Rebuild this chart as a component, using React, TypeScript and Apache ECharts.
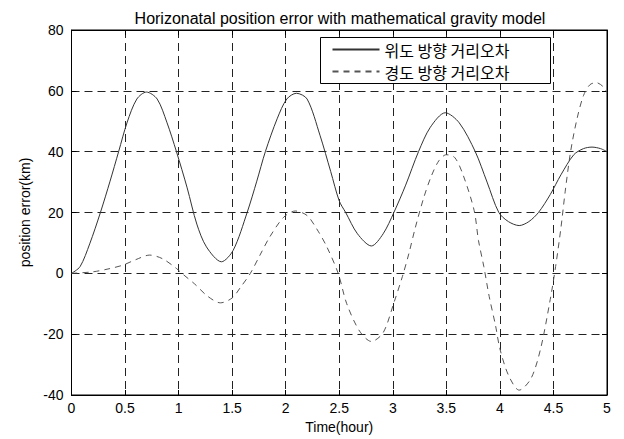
import React, { useEffect, useRef } from "react";
import * as echarts from "echarts";

const titleText = "Horizonatal position error with mathematical gravity model";
const xName = "Time(hour)";
const yName = "position error(km)";
const seriesNames = ["위도 방향 거리오차", "경도 방향 거리오차"];

const latT = [0, 0.08, 0.17, 0.27, 0.36, 0.44, 0.52, 0.61, 0.7, 0.8, 0.89, 0.98, 1.08, 1.17, 1.26, 1.4, 1.51, 1.64, 1.73, 1.81, 1.92, 2.01, 2.1, 2.2, 2.32, 2.42, 2.5, 2.56, 2.67, 2.8, 2.91, 3.01, 3.12, 3.24, 3.35, 3.49, 3.62, 3.77, 3.88, 3.99, 4.08, 4.18, 4.27, 4.36, 4.47, 4.57, 4.69, 4.78, 4.86, 4.94, 5.0];
const latV = [0, 2.2, 9.7, 20, 30.3, 40, 49.7, 57.3, 59.6, 57.3, 49.7, 40, 28.1, 16.2, 8.7, 3.8, 7.6, 20, 30.3, 40, 50.8, 57.3, 59.2, 57.3, 45.4, 33.5, 23.8, 20, 13, 9, 13, 20, 29, 40, 48, 52.8, 49.5, 40, 30, 20, 17, 15.7, 17, 20, 25.9, 32.4, 39, 41, 41.5, 41, 40];

const lonT = [0, 0.2, 0.35, 0.48, 0.6, 0.73, 0.85, 0.98, 1.03, 1.15, 1.27, 1.39, 1.5, 1.58, 1.67, 1.76, 1.85, 1.98, 2.09, 2.2, 2.29, 2.38, 2.49, 2.57, 2.69, 2.8, 2.91, 3.01, 3.09, 3.15, 3.21, 3.29, 3.36, 3.43, 3.5, 3.58, 3.66, 3.76, 3.8, 3.85, 3.9, 3.96, 4.0, 4.08, 4.18, 4.29, 4.38, 4.47, 4.52, 4.57, 4.61, 4.66, 4.72, 4.78, 4.84, 4.9, 4.96, 5.0];
const lonV = [0, 0.5, 1.5, 2.7, 4.5, 6.0, 4.8, 1.6, 0, -3.5, -7.5, -9.7, -8.1, -4.5, 0, 6, 11.9, 18.4, 20.5, 19.0, 14.6, 9, 0, -10, -19, -22.4, -19.5, -9.7, -1, 6.5, 15, 25, 32, 37, 39, 38, 32, 20.6, 10.8, 2.2, -7.6, -17.3, -24.8, -33.5, -38.4, -34.6, -24.8, -8.6, 2.2, 15, 27, 40, 50.8, 58.4, 62, 62.7, 61.5, 59.5];

const xTicks = { min: 0, max: 5, interval: 0.5 };
const yTicks = { min: -40, max: 80, interval: 20 };

export default function App() {
  const ref = useRef<HTMLDivElement>(null);
  useEffect(() => {
    document.body.style.margin = "0";
    if (!ref.current) return;
    const chart = echarts.init(ref.current, undefined, { renderer: "svg" });
    const latin = "Liberation Sans, Arial, sans-serif";
    const gridL = 71.5, gridR = 17, gridT = 30, gridB = 39;
    chart.setOption({
      animation: false,
      backgroundColor: "#fff",
      title: {
        text: titleText,
        left: 335,
        textAlign: "center",
        top: 5,
        textStyle: { fontFamily: latin, fontSize: 16, fontWeight: "normal", color: "#000" },
      },
      legend: {
        orient: "vertical",
        left: 320.5,
        top: 37.5,
        itemWidth: 47,
        itemHeight: 14,
        itemGap: 2,
        padding: [2, 8, 2, 11],
        borderColor: "#000",
        borderWidth: 1,
        backgroundColor: "#fff",
        itemStyle: { opacity: 0 },
        data: seriesNames,
        textStyle: {
          fontFamily: "Noto Sans CJK KR",
          fontSize: 16,
          lineHeight: 20,
          width: 158,
          color: "#000",
        },
      },
      grid: {
        left: gridL,
        right: gridR,
        top: gridT,
        bottom: gridB,
        show: true,
        borderColor: "#000",
        borderWidth: 1,
        backgroundColor: "#fff",
      },
      xAxis: [
        {
          type: "value",
          ...xTicks,
          name: xName,
          nameLocation: "middle",
          nameGap: 25,
          nameTextStyle: { fontFamily: latin, fontSize: 14, color: "#000" },
          axisLine: { show: true, onZero: false, lineStyle: { color: "#000" } },
          axisTick: { show: true, inside: true, length: 5, lineStyle: { color: "#000" } },
          axisLabel: { fontFamily: latin, fontSize: 14, color: "#000", margin: 6 },
          splitLine: { show: true, lineStyle: { type: [8, 5], color: "#222", width: 1 } },
        },
        {
          type: "value",
          ...xTicks,
          position: "top",
          axisLine: { show: true, onZero: false, lineStyle: { color: "#000" } },
          axisTick: { show: true, inside: true, length: 5, lineStyle: { color: "#000" } },
          axisLabel: { show: false },
          splitLine: { show: false },
        },
      ],
      yAxis: [
        {
          type: "value",
          ...yTicks,
          name: yName,
          nameLocation: "middle",
          nameGap: 30,
          nameTextStyle: { fontFamily: latin, fontSize: 14, color: "#000" },
          axisLine: { show: true, onZero: false, lineStyle: { color: "#000" } },
          axisTick: { show: true, inside: true, length: 5, lineStyle: { color: "#000" } },
          axisLabel: { fontFamily: latin, fontSize: 14, color: "#000", margin: 8 },
          splitLine: { show: true, lineStyle: { type: [8, 5], color: "#222", width: 1 } },
        },
        {
          type: "value",
          ...yTicks,
          position: "right",
          axisLine: { show: true, onZero: false, lineStyle: { color: "#000" } },
          axisTick: { show: true, inside: true, length: 5, lineStyle: { color: "#000" } },
          axisLabel: { show: false },
          splitLine: { show: false },
        },
      ],
      series: [
        {
          name: seriesNames[0],
          type: "line",
          data: latT.map((t, i) => [t, latV[i]]),
          showSymbol: false,
          symbol: "none",
          smooth: 0.3,
          lineStyle: { color: "#333", width: 1, type: "solid" },
          itemStyle: { color: "#333" },
          z: 3,
        },
        {
          name: seriesNames[1],
          type: "line",
          data: lonT.map((t, i) => [t, lonV[i]]),
          showSymbol: false,
          symbol: "none",
          smooth: 0.3,
          lineStyle: { color: "#555", width: 1, type: [6, 5] },
          itemStyle: { color: "#555" },
          z: 3,
        },
      ],
    });
    return () => chart.dispose();
  }, []);
  return <div ref={ref} style={{ width: 624, height: 439, overflow: "hidden" }} />;
}
